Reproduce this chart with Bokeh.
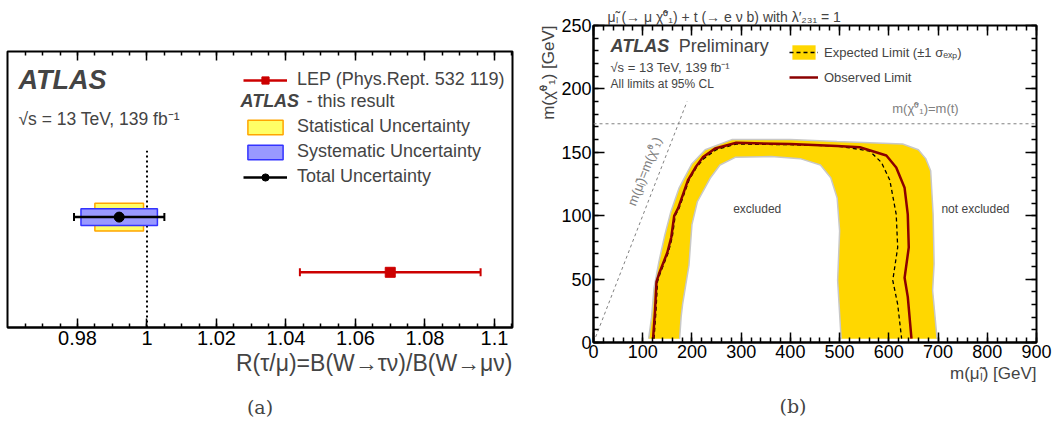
import math
from bokeh.plotting import figure
from bokeh.models import (Range1d, FixedTicker, LinearAxis, Label, Legend, LegendItem,
                          ColumnDataSource, Whisker, TeeHead, Span, Title)
from bokeh.layouts import row
from bokeh.embed import file_html
from bokeh.resources import INLINE

# ---------------- Panel (a) data ----------------
meas_names = ["ATLAS", "LEP"]
meas_row = [2, 1]
meas_value = [0.992, 1.070]
meas_total = [0.013, 0.026]
atlas_stat = 0.007
atlas_syst = 0.011
sm_value = 1.0
x_major_a = [0.98, 1.0, 1.02, 1.04, 1.06, 1.08, 1.1]
x_labels_a = ["0.98", "1", "1.02", "1.04", "1.06", "1.08", "1.1"]

# ---------------- Panel (b) data ----------------
obs_x = [121, 125, 128, 133, 150, 158, 164, 172, 192, 207, 222, 247, 290, 400, 495, 541, 595, 615, 632, 638.5, 640.5, 632, 638.5, 646]
obs_y = [3, 25, 48, 54, 71, 83, 100, 106, 128, 138, 146, 153, 157.5, 156.5, 155, 154, 147.5, 138, 122, 101, 75, 51, 36, 3]
exp_x = [123, 127, 130, 135, 152, 160, 166, 174, 194, 209, 224, 249, 290, 400, 495, 561, 585, 602, 615, 618, 608, 618, 626]
exp_y = [3, 25, 48, 54, 71, 83, 100, 106, 128, 138, 145, 152, 156.5, 156, 155, 151, 142, 128, 101, 75, 49, 30, 3]
band_outer_x = [112, 118, 123, 133, 145, 157, 174, 200, 227, 281, 400, 495, 628, 660, 675, 685, 690, 692, 689, 698]
band_outer_y = [3, 20, 43, 64, 85, 103, 122, 141, 152, 160, 160, 158.5, 156.6, 152, 145, 135.5, 101, 62, 41, 3]
band_inner_x = [175, 178, 181, 194, 200, 211, 237, 257, 288, 361, 420, 461, 482, 495, 500, 496, 503]
band_inner_y = [3, 20, 30, 61, 93, 111, 129.5, 140, 146, 146.6, 145, 140, 130, 114, 88, 49, 3]
diag_x = [0, 190]
diag_y = [0, 190]
top_mass = 172.5
x_major_b = list(range(0, 1000, 100))
y_major_b = list(range(0, 300, 50))

FONT = "Liberation Sans"


def no_align(p):
    if "frame_align" in p.properties():
        p.frame_align = False


# ======================= Panel (a) =======================
pa = figure(width=530, height=425, x_range=Range1d(0.95986, 1.10518), y_range=Range1d(0, 5),
            output_backend="svg", toolbar_location=None,
            min_border_left=7, min_border_right=18, min_border_top=51, min_border_bottom=98)
no_align(pa)
pa.title.visible = False
pa.yaxis.visible = False
pa.xgrid.visible = False
pa.ygrid.visible = False
pa.outline_line_color = "black"
pa.outline_line_width = 2

minor_a = [round(0.96 + 0.005 * i, 3) for i in range(1, 30)]
ticker_a = FixedTicker(ticks=x_major_a, minor_ticks=minor_a)
ax = pa.xaxis[0]
ax.ticker = ticker_a
ax.major_label_overrides = {v: l for v, l in zip(x_major_a, x_labels_a)}
ax.major_tick_in = 9
ax.major_tick_out = 0
ax.minor_tick_in = 4
ax.minor_tick_out = 0
ax.axis_line_width = 2
ax.major_tick_line_width = 1.5
ax.minor_tick_line_width = 1.5
ax.major_label_text_font = FONT
ax.major_label_text_font_size = "20px"
ax.major_label_text_color = "black"
ax.major_label_standoff = 3

top_a = LinearAxis(ticker=ticker_a, major_tick_in=9, major_tick_out=0, minor_tick_in=4,
                   minor_tick_out=0, major_tick_line_width=1.5, minor_tick_line_width=1.5,
                   axis_line_color=None, major_label_text_font_size="0px",
                   major_label_overrides={v: "" for v in x_major_a}, major_label_standoff=0)
pa.add_layout(top_a, "above")

pa.add_layout(Title(text="R(τ/μ)=B(W→τν)/B(W→μν)", align="right", text_font=FONT,
                    text_font_size="23px", text_font_style="normal", standoff=1), "below")
caption_a = LinearAxis(ticker=FixedTicker(ticks=[]), axis_line_color=None,
                       major_tick_line_color=None, minor_tick_line_color=None,
                       major_label_text_font_size="0px", major_label_standoff=0,
                       axis_label="(a)", axis_label_standoff=19,
                       axis_label_text_font="DejaVu Serif", axis_label_text_font_size="19px",
                       axis_label_text_font_style="normal")
pa.add_layout(caption_a, "below")

# SM reference line
pa.segment(x0=[sm_value], y0=[0], x1=[sm_value], y1=[3.2], line_color="black",
           line_width=2, line_dash="2 3")

atlas_src = ColumnDataSource(dict(
    y=[meas_row[0]], v=[meas_value[0]],
    stat_lo=[meas_value[0] - atlas_stat], stat_hi=[meas_value[0] + atlas_stat],
    syst_lo=[meas_value[0] - atlas_syst], syst_hi=[meas_value[0] + atlas_syst],
    tot_lo=[meas_value[0] - meas_total[0]], tot_hi=[meas_value[0] + meas_total[0]],
    yb_s=[meas_row[0] - 0.25], yt_s=[meas_row[0] + 0.25],
    yb_y=[meas_row[0] - 0.15], yt_y=[meas_row[0] + 0.15]))
lep_src = ColumnDataSource(dict(
    y=[meas_row[1]], v=[meas_value[1]],
    lo=[meas_value[1] - meas_total[1]], hi=[meas_value[1] + meas_total[1]]))

stat_r = pa.quad(left="stat_lo", right="stat_hi", bottom="yb_s", top="yt_s", source=atlas_src,
                 fill_color="#FFFF66", line_color="#FFA500", line_width=1.5)
syst_r = pa.quad(left="syst_lo", right="syst_hi", bottom="yb_y", top="yt_y", source=atlas_src,
                 fill_color="#9999FF", line_color="#3333FF", line_width=1.5)
tot_seg = pa.segment(x0="tot_lo", x1="tot_hi", y0="y", y1="y", source=atlas_src,
                     line_color="black", line_width=2.5)
pa.add_layout(Whisker(source=atlas_src, base="y", lower="tot_lo", upper="tot_hi",
                      dimension="width", line_alpha=0,
                      lower_head=TeeHead(size=8, line_width=2, line_color="black"),
                      upper_head=TeeHead(size=8, line_width=2, line_color="black")))
tot_dot = pa.scatter(x="v", y="y", source=atlas_src, size=10, color="black")

lep_seg = pa.segment(x0="lo", x1="hi", y0="y", y1="y", source=lep_src,
                     line_color="#CC0000", line_width=2.5)
pa.add_layout(Whisker(source=lep_src, base="y", lower="lo", upper="hi",
                      dimension="width", line_alpha=0,
                      lower_head=TeeHead(size=8, line_width=2, line_color="#CC0000"),
                      upper_head=TeeHead(size=8, line_width=2, line_color="#CC0000")))
lep_sq = pa.scatter(x="v", y="y", source=lep_src, marker="square", size=10, color="#CC0000")

dummy = pa.scatter(x=[sm_value], y=[0], size=1, alpha=0)

leg_a = Legend(items=[
    LegendItem(label="LEP (Phys.Rept. 532 119)", renderers=[lep_seg, lep_sq]),
    LegendItem(label=" ", renderers=[dummy]),
    LegendItem(label="Statistical Uncertainty", renderers=[stat_r]),
    LegendItem(label="Systematic Uncertainty", renderers=[syst_r]),
    LegendItem(label="Total Uncertainty", renderers=[tot_seg, tot_dot]),
], location=(236, 140), glyph_width=44, glyph_height=18, label_standoff=10, padding=0,
    margin=0, spacing=4, label_height=18, border_line_alpha=0, background_fill_alpha=0,
    label_text_font=FONT, label_text_font_size="18px")
pa.add_layout(leg_a)

pa.add_layout(Label(x=0.9630, y=4.203, text="ATLAS", text_font=FONT, text_font_size="27px",
                    text_font_style="bold italic"))
pa.add_layout(Label(x=0.9630, y=3.587, text="√s = 13 TeV, 139 fb⁻¹", text_font=FONT,
                    text_font_size="17.5px"))
pa.add_layout(Label(x=1.0269, y=3.93, text="ATLAS", text_font=FONT, text_font_size="18px",
                    text_font_style="bold italic"))
pa.add_layout(Label(x=1.0459, y=3.93, text="- this result", text_font=FONT, text_font_size="18px"))

# ======================= Panel (b) =======================
pb = figure(width=528, height=425, x_range=Range1d(0, 900), y_range=Range1d(0, 250),
            output_backend="svg", toolbar_location=None,
            min_border_left=63, min_border_right=22, min_border_top=25, min_border_bottom=83)
no_align(pb)
pb.title.visible = False
pb.xgrid.visible = False
pb.ygrid.visible = False
pb.outline_line_color = "black"
pb.outline_line_width = 2

ticker_bx = FixedTicker(ticks=x_major_b, minor_ticks=list(range(0, 901, 20)))
ticker_by = FixedTicker(ticks=y_major_b, minor_ticks=list(range(0, 251, 10)))
for axis, tk, tin in ((pb.xaxis[0], ticker_bx, 10), (pb.yaxis[0], ticker_by, 11)):
    axis.ticker = tk
    axis.major_tick_in = tin
    axis.major_tick_out = 0
    axis.minor_tick_in = 5
    axis.minor_tick_out = 0
    axis.axis_line_width = 2
    axis.major_tick_line_width = 1.5
    axis.minor_tick_line_width = 1.5
    axis.major_label_text_font = FONT
    axis.major_label_text_font_size = "18px"
    axis.major_label_standoff = 2
    axis.major_label_text_color = "black"

pb.add_layout(LinearAxis(ticker=ticker_bx, major_tick_in=10, major_tick_out=0, minor_tick_in=5,
                         minor_tick_out=0, major_tick_line_width=1.5, minor_tick_line_width=1.5,
                         axis_line_color=None, major_label_text_font_size="0px",
                         major_label_overrides={v: "" for v in x_major_b},
                         major_label_standoff=0), "above")
pb.add_layout(LinearAxis(ticker=ticker_by, major_tick_in=11, major_tick_out=0, minor_tick_in=5,
                         minor_tick_out=0, major_tick_line_width=1.5, minor_tick_line_width=1.5,
                         axis_line_color=None, major_label_text_font_size="0px",
                         major_label_overrides={v: "" for v in y_major_b},
                         major_label_standoff=0), "right")

pb.add_layout(Title(text="μ̃ₗ (→ μ χ̃⁰₁) + t (→ e ν b) with λ′₂₃₁ = 1", align="left", offset=14,
                    text_font=FONT, text_font_size="14px", text_font_style="normal",
                    standoff=1), "above")

pb.add_layout(Title(text="m(μ̃ₗ) [GeV]", align="right", text_font=FONT,
                    text_font_size="17px", text_font_style="normal", standoff=2), "below")
pb.add_layout(Title(text="(b)", align="left", offset=186, text_font="DejaVu Serif",
                    text_font_size="19px", text_font_style="normal", standoff=18), "below")
pb.add_layout(Title(text="m(χ̃⁰₁) [GeV]", align="right", text_font=FONT,
                    text_font_size="17px", text_font_style="normal", standoff=2), "left")

band_x = band_outer_x + band_inner_x[::-1]
band_y = band_outer_y + band_inner_y[::-1]
band_r = pb.patch(band_x, band_y, fill_color="#FFD700", line_color=None)
pb.line(band_outer_x, band_outer_y, line_color="#C8C8C8", line_width=1.5)
pb.line(band_inner_x, band_inner_y, line_color="#C8C8C8", line_width=1.5)
exp_r = pb.line(exp_x, exp_y, line_color="black", line_width=1.3, line_dash="4 3")
obs_r = pb.line(obs_x, obs_y, line_color="#8B0000", line_width=2.5)

pb.line(diag_x, diag_y, line_color="#808080", line_width=1, line_dash="3 3")
pb.add_layout(Span(location=top_mass, dimension="width", line_color="#808080",
                   line_width=1, line_dash="3 3"))

leg_b = Legend(items=[
    LegendItem(label="Expected Limit (±1 σₑₓₚ)", renderers=[band_r, exp_r]),
    LegendItem(label="Observed Limit", renderers=[obs_r]),
], location=(196, 256), glyph_width=29, glyph_height=18, label_standoff=6, padding=0,
    margin=0, spacing=7, label_height=18, border_line_alpha=0, background_fill_alpha=0,
    label_text_font=FONT, label_text_font_size="13px")
pb.add_layout(leg_b)

pb.add_layout(Label(x=34.5, y=225.6, text="ATLAS", text_font=FONT, text_font_size="18px",
                    text_font_style="bold italic"))
pb.add_layout(Label(x=173, y=225.6, text="Preliminary", text_font=FONT, text_font_size="18px"))
pb.add_layout(Label(x=34.5, y=210.6, text="√s = 13 TeV, 139 fb⁻¹", text_font=FONT,
                    text_font_size="13px"))
pb.add_layout(Label(x=34.5, y=198.7, text="All limits at 95% CL", text_font=FONT,
                    text_font_size="12px"))
pb.add_layout(Label(x=607, y=179, text="m(χ̃⁰₁)=m(t)", text_font=FONT, text_font_size="13px",
                    text_color="#808080"))
pb.add_layout(Label(x=103.6, y=135, text="m(μ̃ₗ)=m(χ̃⁰₁)", text_font=FONT, text_font_size="13px",
                    text_color="#808080", angle=math.atan2(1.268, 0.4922),
                    text_align="center", text_baseline="middle"))
pb.add_layout(Label(x=332.6, y=104.9, text="excluded", text_font=FONT, text_font_size="12px",
                    text_align="center", text_baseline="middle"))
pb.add_layout(Label(x=776, y=104.9, text="not excluded", text_font=FONT, text_font_size="12px",
                    text_align="center", text_baseline="middle"))

layout = row(pa, pb, spacing=0)
open("out.html", "w").write(file_html(layout, INLINE))
